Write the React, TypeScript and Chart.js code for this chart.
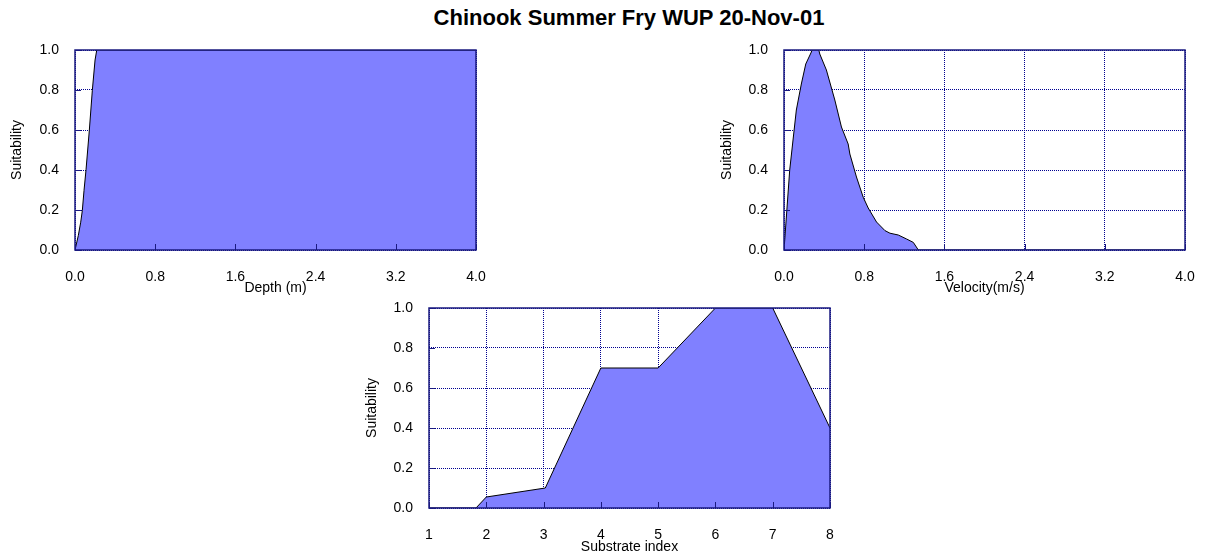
import React, { useEffect, useRef } from "react";
import { Chart, registerables } from "chart.js";

Chart.register(...registerables);

// ---------- data ----------
const depthX = [0, 0.033, 0.057, 0.073, 0.09, 0.11, 0.143, 0.173, 0.2, 0.217, 4.0];
const depthY = [0, 0.072, 0.139, 0.197, 0.298, 0.401, 0.599, 0.799, 0.95, 1.0, 1.0];

const velX = [0, 0.057, 0.123, 0.173, 0.217, 0.273, 0.28, 0.347, 0.357, 0.423, 0.507, 0.573, 0.64, 0.657, 0.723, 0.79, 0.84, 0.923, 1.007, 1.057, 1.14, 1.223, 1.29, 1.34, 4.0];
const velY = [0, 0.4, 0.7, 0.83, 0.93, 0.99, 1.0, 1.0, 0.98, 0.9, 0.75, 0.615, 0.53, 0.48, 0.365, 0.264, 0.21, 0.14, 0.097, 0.084, 0.075, 0.055, 0.038, 0, 0];

const subX = [1, 1.82, 2, 3.03, 4, 5, 6, 7, 8];
const subY = [0, 0, 0.055, 0.1, 0.7, 0.7, 1.0, 1.0, 0.4];

const yTicks = [0, 0.2, 0.4, 0.6, 0.8, 1.0];

const titleText = "Chinook Summer Fry WUP 20-Nov-01";
const yLabel = "Suitability";
const depthLabel = "Depth (m)";
const velLabel = "Velocity(m/s)";
const subLabel = "Substrate index";

// ---------- style ----------
const FONT = "'Liberation Sans', Arial, sans-serif";
const NAVY = "#1a1a80";
const GRID = "#000090";
const FILL = "#8080ff";

const framePlugin = {
  id: "frame",
  afterDatasetsDraw(chart: any) {
    const { ctx, chartArea, scales } = chart;
    const { left, top, right, bottom } = chartArea;
    ctx.save();
    ctx.strokeStyle = NAVY;
    ctx.lineWidth = 1;
    scales.y.ticks.forEach((t: any) => {
      const py = Math.round(scales.y.getPixelForValue(t.value)) + 0.5;
      ctx.beginPath();
      ctx.moveTo(left, py);
      ctx.lineTo(left + 6, py);
      ctx.stroke();
    });
    scales.x.ticks.forEach((t: any) => {
      const px = Math.round(scales.x.getPixelForValue(t.value)) + 0.5;
      ctx.beginPath();
      ctx.moveTo(px, bottom);
      ctx.lineTo(px, bottom - 6);
      ctx.stroke();
    });
    ctx.lineWidth = 1.5;
    ctx.strokeRect(left, top, right - left, bottom - top);
    ctx.restore();
  },
};

function zeroPad(scale: any) {
  scale.paddingTop = 0;
  scale.paddingBottom = 0;
  scale.paddingLeft = 0;
  scale.paddingRight = 0;
}

type PanelProps = {
  left: number;
  top: number;
  width: number;
  height: number;
  xs: number[];
  ys: number[];
  xMin: number;
  xMax: number;
  xStep: number;
  xDecimals: number;
  xTitle: string;
  yAxisWidth: number;
  xAxisHeight: number;
  yTitlePad: number;
  xTitlePad: number;
  rightPad: number;
};

function Panel(p: PanelProps) {
  const ref = useRef<HTMLCanvasElement>(null);
  useEffect(() => {
    if (!ref.current) return;
    const pts = p.xs.map((x, i) => ({ x, y: p.ys[i] }));
    const chart = new Chart(ref.current, {
      type: "line",
      data: {
        datasets: [
          {
            data: pts,
            borderColor: "#000000",
            borderWidth: 1,
            backgroundColor: FILL,
            fill: "origin",
            pointRadius: 0,
            tension: 0,
          },
        ],
      },
      options: {
        animation: false,
        responsive: false,
        devicePixelRatio: 1,
        layout: { padding: { top: 10, right: p.rightPad, left: 0, bottom: 0 } },
        plugins: { legend: { display: false }, tooltip: { enabled: false }, title: { display: false } },
        scales: {
          x: {
            type: "linear",
            min: p.xMin,
            max: p.xMax,
            afterBuildTicks: (scale: any) => {
              const t: any[] = [];
              const n = Math.round((p.xMax - p.xMin) / p.xStep);
              for (let i = 0; i <= n; i++) t.push({ value: p.xMin + i * p.xStep });
              scale.ticks = t;
            },
            afterFit: (scale: any) => {
              scale.height = p.xAxisHeight;
              zeroPad(scale);
            },
            ticks: {
              padding: 19,
              color: "#000",
              font: { family: FONT, size: 14 },
              maxRotation: 0,
              autoSkip: false,
              callback: (v: any) => Number(v).toFixed(p.xDecimals),
            },
            grid: { color: GRID, lineWidth: 1, drawTicks: false },
            border: { display: false, dash: [1, 1] },
            title: {
              display: true,
              text: p.xTitle,
              color: "#000",
              font: { family: FONT, size: 14 },
              padding: { top: 0, bottom: p.xTitlePad },
            },
          },
          y: {
            type: "linear",
            min: 0,
            max: 1,
            afterBuildTicks: (scale: any) => {
              scale.ticks = yTicks.map((v) => ({ value: v }));
            },
            afterFit: (scale: any) => {
              scale.width = p.yAxisWidth;
              zeroPad(scale);
            },
            ticks: {
              padding: 16,
              color: "#000",
              font: { family: FONT, size: 14 },
              callback: (v: any) => Number(v).toFixed(1),
            },
            grid: { color: GRID, lineWidth: 1, drawTicks: false },
            border: { display: false, dash: [1, 1] },
            title: {
              display: true,
              text: yLabel,
              color: "#000",
              font: { family: FONT, size: 14 },
              padding: { top: p.yTitlePad, bottom: 0 },
            },
          },
        },
      },
      plugins: [framePlugin],
    } as any);
    return () => chart.destroy();
  }, []);
  return (
    <div style={{ position: "absolute", left: p.left, top: p.top, width: p.width, height: p.height }}>
      <canvas ref={ref} width={p.width} height={p.height} style={{ width: p.width, height: p.height, display: "block" }} />
    </div>
  );
}

export default function App() {
  return (
    <div style={{ position: "fixed", left: 0, top: 0, width: 1207, height: 556, background: "#fff", overflow: "hidden" }}>
      <div
        style={{
          position: "absolute",
          left: 629,
          top: 7,
          transform: "translateX(-50%)",
          whiteSpace: "nowrap",
          fontFamily: FONT,
          fontWeight: "bold",
          fontSize: 22,
          lineHeight: 1,
          color: "#000",
        }}
      >
        {titleText}
      </div>
      <Panel left={0} top={40} width={490} height={260} xs={depthX} ys={depthY} xMin={0} xMax={4} xStep={0.8} xDecimals={1} xTitle={depthLabel} yAxisWidth={75} xAxisHeight={50} yTitlePad={9} xTitlePad={3} rightPad={14} />
      <Panel left={709} top={40} width={490} height={260} xs={velX} ys={velY} xMin={0} xMax={4} xStep={0.8} xDecimals={1} xTitle={velLabel} yAxisWidth={75} xAxisHeight={50} yTitlePad={10} xTitlePad={3} rightPad={14} />
      <Panel left={350} top={298} width={500} height={258} xs={subX} ys={subY} xMin={1} xMax={8} xStep={1} xDecimals={0} xTitle={subLabel} yAxisWidth={79} xAxisHeight={48} yTitlePad={14} xTitlePad={0} rightPad={20} />
    </div>
  );
}
